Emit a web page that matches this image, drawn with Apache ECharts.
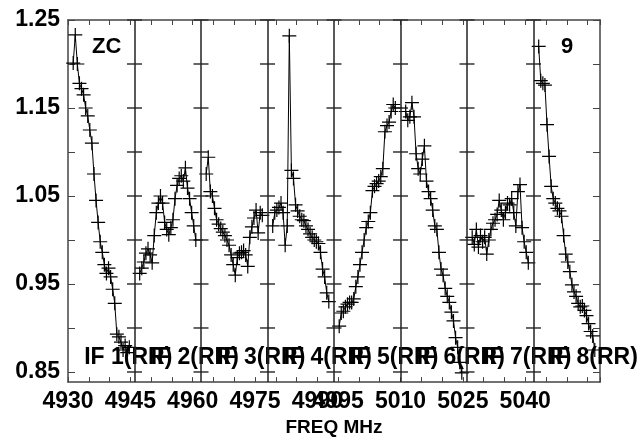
<!DOCTYPE html>
<html><head><meta charset="utf-8">
<script src="https://cdn.jsdelivr.net/npm/echarts@6/dist/echarts.min.js"></script>
<style>html,body{margin:0;padding:0;background:#fff}#c{width:642px;height:442px}</style>
</head><body><div id="c"></div>
<script>
// ---- data ----
const sourceName = 'ZC';
const baselineLabel = '9';
const ifNames = ['IF 1(RR)', 'IF 2(RR)', 'IF 3(RR)', 'IF 4(RR)', 'IF 5(RR)', 'IF 6(RR)', 'IF 7(RR)', 'IF 8(RR)'];
const ifStart = [4930, 4946, 4962, 4978, 4994, 5010, 5026, 5042]; // MHz, panel start
const ifWidth = 16;        // MHz per IF panel
const chanOffset = 1.25;   // first channel centre, MHz from IF start
const chanWidth = 0.5;     // MHz
const if1 = [1.201, 1.233, 1.200, 1.178, 1.172, 1.165, 1.150, 1.141, 1.125, 1.110, 1.075, 1.045, 1.020, 0.998, 0.986, 0.972, 0.962, 0.968, 0.958, 0.944, 0.928, 0.893, 0.890, 0.884, 0.875, 0.880, 0.872, 0.878];
const if2 = [0.962, 0.968, 0.975, 0.985, 0.990, 0.983, 0.974, 1.005, 1.031, 1.042, 1.050, 1.042, 1.020, 1.012, 1.006, 1.014, 1.023, 1.047, 1.062, 1.070, 1.073, 1.067, 1.082, 1.059, 1.047, 1.031, 1.016, 1.000];
const if3 = [1.075, 1.094, 1.055, 1.050, 1.036, 1.023, 1.018, 1.013, 1.009, 1.005, 1.000, 0.994, 0.983, 0.972, 0.960, 0.980, 0.985, 0.986, 0.988, 0.983, 0.970, 1.003, 1.015, 1.025, 1.034, 1.008, 1.031, 1.028];
const if4 = [1.016, 1.031, 1.034, 1.037, 1.042, 1.031, 0.994, 1.016, 1.232, 1.079, 1.070, 1.040, 1.033, 1.027, 1.023, 1.022, 1.016, 1.012, 1.007, 1.003, 1.000, 0.998, 0.996, 0.986, 0.967, 0.958, 0.940, 0.930];
const if5 = [0.902, 0.917, 0.919, 0.924, 0.927, 0.929, 0.929, 0.933, 0.947, 0.958, 0.972, 0.986, 1.000, 1.014, 1.021, 1.031, 1.056, 1.061, 1.064, 1.067, 1.072, 1.081, 1.123, 1.130, 1.134, 1.146, 1.154, 1.150];
const if6 = [1.146, 1.136, 1.140, 1.156, 1.140, 1.098, 1.081, 1.075, 1.092, 1.107, 1.067, 1.055, 1.047, 1.034, 1.016, 1.012, 0.986, 0.967, 0.960, 0.945, 0.936, 0.929, 0.918, 0.908, 0.889, 0.878, 0.861, 0.849];
const if7 = [1.003, 0.995, 1.012, 0.992, 1.005, 0.998, 1.003, 0.984, 1.000, 1.012, 1.019, 1.023, 1.029, 1.045, 1.034, 1.023, 1.031, 1.042, 1.040, 1.047, 1.031, 1.016, 1.055, 1.063, 1.014, 0.998, 0.986, 0.974];
const if8 = [1.220, 1.181, 1.178, 1.176, 1.131, 1.095, 1.061, 1.047, 1.042, 1.036, 1.033, 1.027, 1.005, 0.984, 0.975, 0.964, 0.949, 0.941, 0.936, 0.928, 0.924, 0.925, 0.920, 0.914, 0.905, 0.896, 0.891, 0.875];
const xLabels = [4930, 4945, 4960, 4975, 4990, 4995, 5010, 5025, 5040];
const xTickStep = 5;
const yLabels = [0.85, 0.95, 1.05, 1.15, 1.25];
const yTicks = [0.85, 0.90, 0.95, 1.00, 1.05, 1.10, 1.15, 1.20, 1.25];
const xRange = [4930, 5058];
const yRange = [0.8385, 1.25];
const labelOffsetMHz = 3.9;
const labelLevel = 0.866;

// ---- build ----
const allIF = [if1, if2, if3, if4, if5, if6, if7, if8];
const dividers = ifStart.slice(1);
const FONT = 'Liberation Sans, Arial, Helvetica, sans-serif';
const crossPath = 'path://M0,6.4 H6.4 V0 H7.6 V6.4 H14 V7.6 H7.6 V14 H6.4 V7.6 H0 Z';

const series = allIF.map((vals, i) => ({
  type: 'line',
  name: ifNames[i],
  data: vals.map((v, k) => [ifStart[i] + chanOffset + k * chanWidth, v]),
  symbol: crossPath,
  symbolSize: 14,
  showSymbol: true,
  lineStyle: { color: '#000', width: 1 },
  itemStyle: { color: '#000', opacity: 1 },
  silent: true,
  z: 3
}));

series.push({
  type: 'line', data: [], silent: true,
  markLine: {
    symbol: 'none', silent: true, label: { show: false },
    lineStyle: { color: '#222', width: 1.5, type: 'solid', opacity: 1 },
    data: dividers.map(d => ({ xAxis: d }))
  }
});

const crossData = [];
dividers.forEach(d => yTicks.forEach(t => crossData.push([d, t])));
series.push({
  type: 'scatter', data: crossData, symbol: 'rect', symbolSize: [15, 1.5],
  itemStyle: { color: '#333', opacity: 1 }, silent: true, z: 2
});

series.push({
  type: 'scatter', symbolSize: 0, silent: true, z: 4,
  itemStyle: { opacity: 1 },
  data: ifStart.map((s, i) => ({ value: [s + labelOffsetMHz, labelLevel], name: ifNames[i] })),
  label: {
    show: true, position: 'right', distance: 0, formatter: p => p.name, opacity: 1,
    color: '#000', fontWeight: 'bold', fontSize: 23, fontFamily: FONT, verticalAlign: 'middle'
  }
});

const axisLineStyle = { color: '#444', width: 1.5 };
const chart = echarts.init(document.getElementById('c'), null, { renderer: 'canvas' });
chart.setOption({
  animation: false,
  backgroundColor: '#fff',
  grid: { left: 68, right: 42, top: 20, bottom: 53 },
  xAxis: [{
    type: 'value', position: 'bottom', min: xRange[0], max: xRange[1], interval: xTickStep,
    axisLine: { show: true, lineStyle: axisLineStyle },
    axisTick: { show: true, inside: true, length: 5, lineStyle: { color: '#444' } },
    axisLabel: { show: true, customValues: xLabels, margin: 8, color: '#000', fontWeight: 'bold', fontSize: 23, fontFamily: FONT, formatter: v => String(v) },
    splitLine: { show: false },
    name: 'FREQ MHz', nameLocation: 'middle', nameGap: 31,
    nameTextStyle: { color: '#000', fontWeight: 'bold', fontSize: 19, fontFamily: FONT }
  }, {
    type: 'value', position: 'top', min: xRange[0], max: xRange[1], interval: xTickStep,
    axisLine: { show: true, lineStyle: axisLineStyle },
    axisTick: { show: true, inside: true, length: 5, lineStyle: { color: '#444' } },
    axisLabel: { show: false }, splitLine: { show: false }
  }],
  yAxis: [{
    type: 'value', position: 'left', min: yRange[0], max: yRange[1],
    axisLine: { show: true, lineStyle: axisLineStyle },
    axisTick: { show: true, inside: true, length: 7, customValues: yTicks, lineStyle: { color: '#444' } },
    axisLabel: { show: true, customValues: yLabels, margin: 8, color: '#000', fontWeight: 'bold', fontSize: 23, fontFamily: FONT, formatter: v => v.toFixed(2) },
    splitLine: { show: false }
  }, {
    type: 'value', position: 'right', min: yRange[0], max: yRange[1],
    axisLine: { show: true, lineStyle: axisLineStyle },
    axisTick: { show: true, inside: true, length: 7, customValues: yTicks, lineStyle: { color: '#444' } },
    axisLabel: { show: false }, splitLine: { show: false }
  }],
  graphic: [
    { type: 'text', left: 92, top: 36, style: { text: sourceName, font: 'bold 22px ' + FONT, fill: '#000' } },
    { type: 'text', left: 561, top: 36, style: { text: baselineLabel, font: 'bold 22px ' + FONT, fill: '#000' } }
  ],
  series: series
});
</script>
</body></html>
